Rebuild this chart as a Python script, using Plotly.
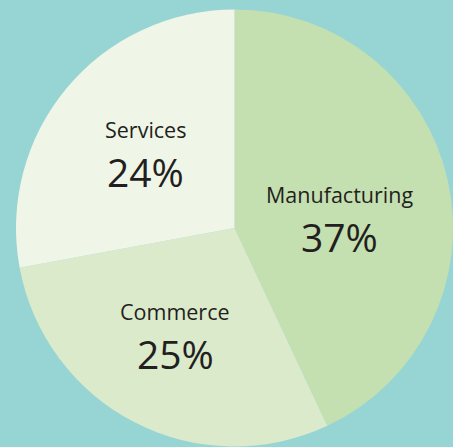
import plotly.graph_objects as go

W, H = 453, 447

sectors = ["Manufacturing", "Commerce", "Services"]
shares = [37, 25, 24]
colors = ["#C5E0B0", "#DAEACB", "#EFF5E7"]

# label anchor positions (pixels from top-left) for each sector
label_px = [(339, 194), (175, 311), (145, 129)]
value_gap = 42

fig = go.Figure(go.Pie(
    labels=sectors,
    values=shares,
    sort=False,
    direction="clockwise",
    rotation=0,
    marker=dict(colors=colors, line=dict(width=0)),
    textinfo="none",
    hoverinfo="label+value",
    showlegend=False,
    domain=dict(x=[16 / W, 1.0], y=[0.5 / H, 437.5 / H]),
))

font_family = "Open Sans, Noto Sans, sans-serif"
annotations = []
for name, val, (px, py) in zip(sectors, shares, label_px):
    annotations.append(dict(
        x=px / W, y=1 - py / H, xref="paper", yref="paper",
        text=name, showarrow=False, xanchor="center", yanchor="middle",
        font=dict(family=font_family, size=21.5, color="#231F20"),
    ))
    annotations.append(dict(
        x=px / W, y=1 - (py + value_gap) / H, xref="paper", yref="paper",
        text=f"{val}%", showarrow=False, xanchor="center", yanchor="middle",
        font=dict(family=font_family, size=39, color="#231F20"),
    ))

fig.update_layout(
    width=W, height=H,
    margin=dict(l=0, r=0, t=0, b=0),
    paper_bgcolor="#96D5D3",
    plot_bgcolor="#96D5D3",
    annotations=annotations,
)

fig.write_html(
    "out.html",
    config={"displayModeBar": False},
    post_script="document.body.style.margin='0';document.body.style.overflow='hidden';document.body.style.background='#96D5D3';",
)
